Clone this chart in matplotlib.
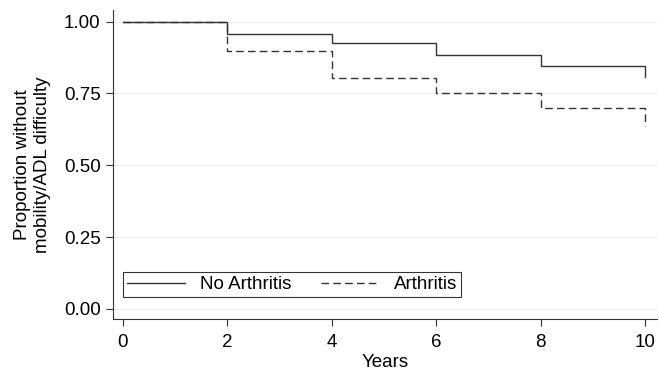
import numpy as np
import matplotlib
matplotlib.use('Agg')
import matplotlib.pyplot as plt

plt.rcParams['font.family'] = ['Liberation Sans', 'DejaVu Sans']

# Kaplan-Meier style step data
years = [0, 2, 4, 6, 8, 10]
no_arthritis = [1.00, 0.958, 0.924, 0.882, 0.846, 0.806]
arthritis = [1.00, 0.899, 0.802, 0.750, 0.698, 0.635]
xticks = [0, 2, 4, 6, 8, 10]
yticks = [0.00, 0.25, 0.50, 0.75, 1.00]

FS = 13.5

fig = plt.figure(figsize=(6.59, 3.73), dpi=100)
ax = fig.add_axes([0.1715, 0.145, 0.826, 0.828])

for yv in yticks:
    ax.axhline(yv, color='#eeeeee', lw=0.9, zorder=0)

ax.step(years, no_arthritis, where='post', color='#333333', lw=1.0, label='No Arthritis')
ax.step(years, arthritis, where='post', color='#333333', lw=1.0,
        linestyle=(0, (5.5, 3)), label='Arthritis')

ax.set_xlim(-0.19, 10.23)
ax.set_ylim(-0.035, 1.04)
ax.set_xticks(xticks)
ax.set_yticks(yticks)
ax.set_yticklabels(['%.2f' % v for v in yticks])
ax.tick_params(labelsize=FS, length=5, width=0.8, color='#333333', direction='out', pad=4)
ax.tick_params(axis='x', pad=6)
ax.spines['top'].set_visible(False)
ax.spines['right'].set_visible(False)
for s in ['left', 'bottom']:
    ax.spines[s].set_color('#333333')
    ax.spines[s].set_linewidth(0.8)

ax.set_xlabel('Years', fontsize=FS, labelpad=2)
ax.set_ylabel('Proportion without\nmobility/ADL difficulty', fontsize=FS, labelpad=9,
              linespacing=1.25)

leg = ax.legend(loc='lower left', ncol=2, fontsize=FS, frameon=True, fancybox=False,
                edgecolor='black', borderpad=0.2, handlelength=3.1, handletextpad=0.8,
                columnspacing=1.6, borderaxespad=0, bbox_to_anchor=(0.018, 0.071))
leg.get_frame().set_linewidth(0.8)

fig.savefig('out.png', dpi=100)
